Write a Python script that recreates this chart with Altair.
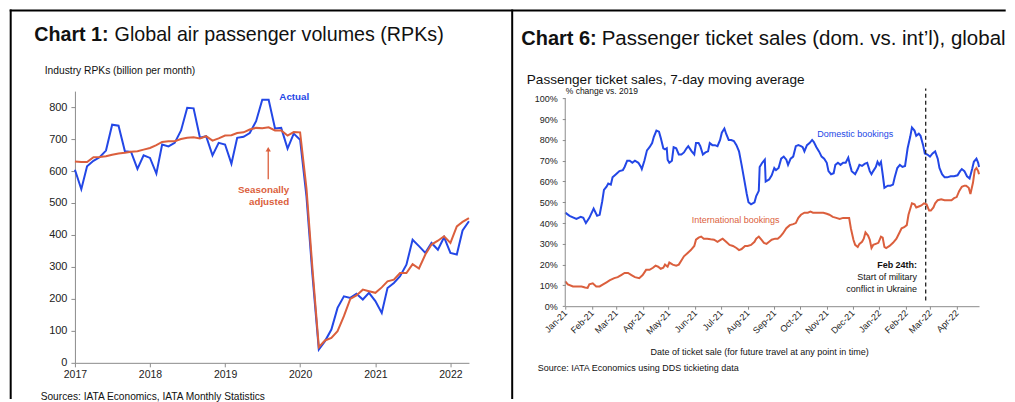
import altair as alt
import pandas as pd

# ---------------- Chart 1 data: monthly RPKs (billion), Jan 2017 - Apr 2022
rpk_actual = [604, 543, 615, 632, 643, 664, 745, 742, 662, 660, 607, 649,
              641, 592, 683, 677, 688, 727, 798, 796, 704, 709, 649, 688,
              683, 623, 704, 707, 719, 756, 823, 823, 733, 735, 670, 717,
              698, 520, 275, 42, 68, 104, 172, 208, 203, 216, 198, 219,
              193, 156, 234, 250, 271, 307, 385, 365, 344, 375, 354, 393,
              344, 339, 414, 443]
rpk_sa = [630, 628, 628, 643, 644, 646, 651, 655, 657, 660, 662, 667,
          672, 681, 691, 693, 693, 700, 704, 706, 702, 709, 695, 702,
          711, 712, 719, 721, 730, 735, 734, 737, 727, 727, 711, 722,
          721, 545, 295, 49, 70, 78, 99, 146, 200, 211, 229, 224,
          219, 236, 255, 260, 281, 281, 309, 295, 339, 370, 382, 396,
          375, 427, 441, 453]
rpk_ticks = [0, 100, 200, 300, 400, 500, 600, 700, 800]

# ---------------- Chart 6 data: % change vs 2019 (days since 1 Jan 2021)
dom_days = [0, 5, 13, 18, 21, 24, 28, 33, 37, 40, 43, 45, 48, 50, 53, 55, 59, 63, 67, 69,
            72, 75, 78, 81, 85, 88, 89, 92, 95, 98, 101, 103, 106, 109, 111, 114, 116, 118, 119, 121,
            124, 126, 129, 132, 135, 138, 141, 143, 147, 150, 152, 155, 157, 160, 163, 166, 168, 171, 174, 177,
            180, 182, 185, 187, 190, 193, 196, 199, 202, 205, 208, 211, 213, 216, 220, 222, 225, 226, 229, 232,
            233, 237, 240, 243, 245, 248, 251, 254, 257, 259, 262, 265, 268, 271, 274, 276, 278, 281, 284, 287,
            289, 292, 295, 298, 301, 304, 306, 309, 312, 314, 317, 320, 323, 326, 329, 331, 333, 337, 340, 342,
            345, 348, 351, 354, 356, 358, 361, 363, 365, 367, 369, 371, 375, 378, 381, 383, 386, 389, 392, 395,
            398, 401, 403, 406, 408, 411, 413, 416, 418, 421, 424, 427, 430, 433, 435, 438, 441, 444, 448, 452,
            456, 459, 461, 464, 467, 470, 473, 475, 478, 480, 481]
dom_vals = [45, 43.5, 42, 43, 42.5, 40, 42.5, 47, 43.5, 44, 50.5, 56, 57.5, 59, 58.5, 62, 63.5, 65, 65.5, 67,
            70, 70, 69, 70, 69, 67, 66, 70, 75, 76.5, 78.5, 81.5, 84.5, 84, 81, 76, 75.5, 76, 70.5, 69,
            70, 76.5, 76, 73, 73, 74, 76, 77, 74.5, 73, 78.5, 78.5, 77, 73, 74, 74.5, 78.5, 77.5, 77.5, 77,
            80, 83.5, 85.5, 83, 80, 80, 79.5, 77.5, 74.5, 68, 61, 54, 50, 49, 50, 53, 55.5, 67, 69, 70.5,
            60, 61, 63, 66.5, 65.5, 66.5, 71, 72, 70.5, 68, 71, 72, 77, 77.5, 77, 76.5, 74.5, 77.5, 78.5, 80,
            79, 76.5, 74.5, 72, 71, 69, 65, 63.5, 64, 68, 69, 68, 69, 69, 71.5, 68, 65, 63.5, 66, 68,
            67.5, 68.5, 69, 65, 63.5, 65, 67, 69.5, 68, 69.5, 63.5, 57, 58, 58, 58.5, 62, 66.5, 68, 67, 67.5,
            76, 81.5, 86, 84.5, 82, 83, 82, 77.5, 73.5, 73, 72, 73.5, 74.5, 71, 66.5, 63.5, 62, 62, 62.5, 62.5,
            63, 65, 66, 65, 62.5, 61.5, 66, 69.5, 71, 69, 67]
intl_days = [0, 3, 9, 15, 19, 23, 26, 28, 32, 36, 40, 44, 48, 52, 57, 61, 65, 69, 73, 77,
             81, 86, 90, 94, 98, 102, 105, 108, 111, 114, 116, 119, 121, 125, 129, 132, 135, 138, 142, 146,
             150, 152, 155, 158, 161, 165, 169, 173, 177, 181, 183, 187, 191, 195, 199, 202, 205, 209, 212, 216,
             220, 222, 225, 228, 231, 234, 237, 240, 244, 247, 250, 253, 257, 261, 265, 268, 271, 274, 278, 282,
             285, 288, 292, 296, 300, 304, 307, 311, 315, 319, 323, 327, 330, 332, 335, 337, 340, 342, 345, 347,
             349, 352, 354, 356, 358, 361, 364, 367, 369, 371, 373, 377, 381, 385, 388, 391, 394, 397, 399, 403,
             406, 408, 411, 414, 417, 420, 423, 425, 428, 430, 433, 437, 441, 445, 449, 452, 455, 458, 461, 464,
             466, 469, 471, 474, 476, 478, 480, 481]
intl_vals = [12, 10.5, 9.5, 9.5, 9.5, 9, 8.8, 10.5, 11, 9.5, 9.5, 10.5, 11.5, 12.5, 13.5, 14, 15, 16, 16, 15,
             14, 13.5, 15, 17.5, 17.5, 18.5, 19.5, 19, 18, 18.5, 20, 19, 21, 20, 19.5, 20, 22, 24, 25.5, 27,
             29, 32, 33, 33.5, 32.5, 32.5, 32.2, 32, 31, 32, 32.5, 31, 29.5, 29, 28, 27, 27.5, 29, 29, 29.5,
             31, 32.5, 33.5, 32, 30.5, 30, 31, 32, 32.5, 32.5, 33.5, 35, 37.5, 39, 39.5, 40, 42.5, 44, 45, 45,
             45.5, 45, 45, 45, 45, 44.5, 44, 43, 42.5, 42, 42.5, 42.5, 42.5, 37.5, 32, 29.5, 28.5, 30, 31, 32.5,
             35.5, 34, 32, 28, 29.5, 30, 30.5, 33.5, 33, 28.5, 28, 29, 30.5, 32.5, 35, 37.5, 38, 39, 44, 49.5,
             49, 47.5, 48, 48.5, 49.5, 49, 46, 46, 47.5, 49.5, 51, 51.5, 51, 51, 51, 52, 52.5, 55.5, 57.5, 58,
             58, 57, 54, 59.5, 65.5, 66.5, 65, 63.5]
pct_ticks = [0, 10, 20, 30, 40, 50, 60, 70, 80, 90, 100]

# ---------------- styling
FONT = "Liberation Sans"
BLUE = "#2347E6"
ORANGE = "#DB5F3D"
AXIS_GREY = "#8C8C8C"
INK = "#111111"
W1, H1 = 394.4, 272
W2, H2 = 414.2, 215.3

DUMMY = pd.DataFrame({"a": [0]})

# ---------------- shared scales / axes
sx1 = alt.Scale(domain=[alt.DateTime(year=2017, month=1, date=1),
                        alt.DateTime(year=2022, month=4, date=1)])
ax1 = alt.Axis(format="%Y", tickCount={"interval": "year", "step": 1},
               labelFontSize=10.5, labelColor="#222222", labelFont=FONT,
               domainColor=AXIS_GREY, tickColor=AXIS_GREY, tickSize=4,
               labelPadding=3, grid=False, labelFlush=False, labelOverlap=False)
sy1 = alt.Scale(domain=[0, 850], nice=False)
ay1 = alt.Axis(values=rpk_ticks, labelFontSize=11, labelColor="#222222", labelFont=FONT,
               domainColor=AXIS_GREY, tickColor=AXIS_GREY, tickSize=4,
               labelPadding=4, grid=False, labelOverlap=False, labelFlush=False)

sx2 = alt.Scale(domain=[alt.DateTime(year=2021, month=1, date=1),
                        alt.DateTime(year=2022, month=4, date=27)])
ax2 = alt.Axis(format="%b-%y", tickCount={"interval": "month", "step": 1},
               labelAngle=-45, labelAlign="right", labelBaseline="middle",
               labelFontSize=9, labelColor="#222222", labelFont=FONT,
               domainColor=AXIS_GREY, tickColor=AXIS_GREY, tickSize=3,
               labelPadding=2, grid=False, labelOverlap=False, labelFlush=False)
sy2 = alt.Scale(domain=[0, 103.5], nice=False)
ay2 = alt.Axis(values=pct_ticks, labelExpr="datum.value + '%'",
               labelFontSize=9, labelColor="#222222", labelFont=FONT,
               domain=False, tickColor=AXIS_GREY, tickSize=3,
               labelPadding=5, grid=False, labelOverlap=False, labelFlush=False)


def X1(d):
    return alt.X(datum=d, type="temporal", scale=sx1, axis=ax1, title=None)


def Y1(v):
    return alt.Y(datum=v, type="quantitative", scale=sy1, axis=ay1, title=None)


def X2(d):
    return alt.X(datum=d, type="temporal", scale=sx2, axis=ax2, title=None)


def Y2(v):
    return alt.Y(datum=v, type="quantitative", scale=sy2, axis=ay2, title=None)


def ptext(text, x, y, size, weight="normal", align="left", baseline="middle", color=INK):
    return alt.Chart(DUMMY).mark_text(
        text=text, font=FONT, fontSize=size, fontWeight=weight,
        align=align, baseline=baseline, color=color
    ).encode(x=alt.value(x), y=alt.value(y))


def dtext(text, xenc, yenc, size, weight="normal", align="left", color=INK):
    return alt.Chart(DUMMY).mark_text(
        text=text, font=FONT, fontSize=size, fontWeight=weight,
        align=align, baseline="middle", color=color
    ).encode(x=xenc, y=yenc)


def frame(x, x2, y, y2):
    enc = {"x": alt.value(x), "y": alt.value(y)}
    if x2 is not None:
        enc["x2"] = alt.value(x2)
    if y2 is not None:
        enc["y2"] = alt.value(y2)
    return alt.Chart(DUMMY).mark_rule(color="#000000", strokeWidth=2).encode(**enc)


# ---------------- left panel
df1 = pd.DataFrame({
    "month": pd.date_range("2017-01-01", periods=len(rpk_actual), freq="MS"),
    "Actual": rpk_actual,
    "Seasonally adjusted": rpk_sa,
})
long1 = df1.melt("month", var_name="series", value_name="rpk")

lines1 = alt.Chart(long1).mark_line(strokeWidth=2).encode(
    x=alt.X("month:T", scale=sx1, axis=ax1, title=None),
    y=alt.Y("rpk:Q", scale=sy1, axis=ay1, title=None),
    color=alt.Color("series:N", scale=alt.Scale(domain=["Seasonally adjusted", "Actual"],
                                                range=[ORANGE, BLUE]), legend=None),
    order=alt.Order("month:T"),
)

arrow_x = alt.DateTime(year=2019, month=7, date=30)
arrow_shaft = alt.Chart(DUMMY).mark_rule(color=ORANGE, strokeWidth=1.3).encode(
    x=X1(arrow_x), y=Y1(574), y2=alt.Y2(datum=664))
arrow_head = alt.Chart(DUMMY).mark_point(shape="triangle-up", filled=True, size=28,
                                         color=ORANGE, opacity=1).encode(
    x=X1(arrow_x), y=Y1(668))

sa_x = alt.DateTime(year=2019, month=11, date=9)
left = alt.layer(
    lines1,
    arrow_shaft, arrow_head,
    dtext("Actual", X1(alt.DateTime(year=2019, month=9, date=22)), Y1(831), 9.8, "bold", color=BLUE),
    dtext("Seasonally", X1(sa_x), Y1(540), 9.8, "bold", "right", ORANGE),
    dtext("adjusted", X1(sa_x), Y1(502), 9.8, "bold", "right", ORANGE),
    ptext("Chart 1:", 33.7, -49.7, 19.7, "bold", "right", "alphabetic"),
    ptext("Global air passenger volumes (RPKs)", 39.7, -49.7, 19.7, "normal", "left", "alphabetic"),
    ptext("Industry RPKs (billion per month)", -30.3, -19.7, 10.3),
    ptext("Sources: IATA Economics, IATA Monthly Statistics", -34.3, 306.3, 10.2),
    frame(-65.3, 931.7, -80.7, None),
    frame(-64.3, None, -81.7, 308.3),
    frame(437.7, None, -81.7, 308.3),
).properties(width=W1, height=H1)

# ---------------- right panel
start = pd.Timestamp("2021-01-01")
dfd = pd.DataFrame({"date": start + pd.to_timedelta(dom_days, unit="D"), "pct": dom_vals,
                    "series": "Domestic bookings"})
dfi = pd.DataFrame({"date": start + pd.to_timedelta(intl_days, unit="D"), "pct": intl_vals,
                    "series": "International bookings"})
long2 = pd.concat([dfi, dfd], ignore_index=True)

lines2 = alt.Chart(long2).mark_line(strokeWidth=2).encode(
    x=alt.X("date:T", scale=sx2, axis=ax2, title=None),
    y=alt.Y("pct:Q", scale=sy2, axis=ay2, title=None),
    color=alt.Color("series:N", scale=alt.Scale(domain=["International bookings", "Domestic bookings"],
                                                range=[ORANGE, BLUE]), legend=None),
    order=alt.Order("date:T"),
)

yaxis_line = alt.Chart(DUMMY).mark_rule(color=AXIS_GREY, strokeWidth=1).encode(
    x=alt.value(0), y=Y2(0), y2=alt.Y2(datum=100))
war_x = alt.DateTime(year=2022, month=2, date=24)
war_line = alt.Chart(DUMMY).mark_rule(color="#222222", strokeWidth=1.3, strokeDash=[4, 3]).encode(
    x=X2(war_x), y=Y2(2.7), y2=alt.Y2(datum=104.8))

feb = alt.DateTime(year=2022, month=2, date=14)
right = alt.layer(
    lines2,
    yaxis_line, war_line,
    dtext("Domestic bookings", X2(alt.DateTime(year=2021, month=10, date=21)), Y2(82.7), 9, color=BLUE),
    dtext("International bookings", X2(alt.DateTime(year=2021, month=5, date=28)), Y2(41.3), 9,
          color=ORANGE),
    dtext("Feb 24th:", X2(feb), Y2(20.0), 9, "bold", "right"),
    dtext("Start of military", X2(feb), Y2(13.9), 9, "normal", "right"),
    dtext("conflict in Ukraine", X2(feb), Y2(8.5), 9, "normal", "right"),
    ptext("Chart 6:", 31.5, -46.4, 20, "bold", "right", "alphabetic"),
    ptext("Passenger ticket sales (dom. vs. int\u2019l), global", 36.5, -46.4, 20.5, "normal", "left",
          "alphabetic"),
    ptext("Passenger ticket sales, 7-day moving average", -38.5, -10.7, 13.6),
    ptext("% change vs. 2019", 0.5, 0.3, 8.5),
    ptext("Date of ticket sale (for future travel at any point in time)", 194.5, 261.3, 9, align="center"),
    ptext("Source: IATA Economics using DDS tickieting data", -27.5, 277.3, 9),
).properties(width=W2, height=H2)

chart = alt.hconcat(left, right, spacing=95.8, bounds="flush").properties(
    padding=0, background="white"
).configure_view(stroke=None).configure_axis(labelOverlap=False)

chart.save("out.html", embed_options={"renderer": "svg", "actions": False})
